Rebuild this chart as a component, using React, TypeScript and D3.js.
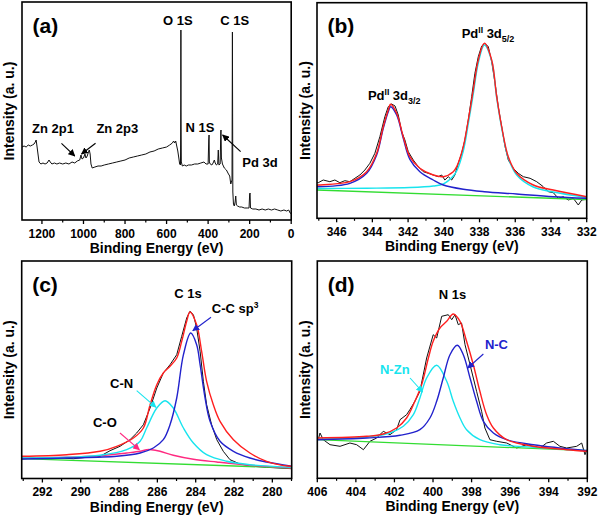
import React from "react";
import * as d3 from "d3";

type P = [number, number];

// ---------------- (a) survey spectrum ----------------
const surveyTicks = [1200, 1000, 800, 600, 400, 200, 0];
const surveySpectrum: P[] = [
  [1296, 73], [1286, 74], [1276, 73], [1266, 75], [1256, 74], [1246, 75], [1238, 76], [1232, 78],
  [1228, 80], [1224, 74], [1219, 66], [1214, 58], [1205, 56], [1195, 57], [1185, 56], [1175, 57],
  [1166, 60], [1160, 58], [1152, 56], [1140, 57], [1128, 56], [1115, 57], [1100, 56], [1085, 57],
  [1070, 56], [1055, 58], [1042, 57], [1030, 59], [1018, 60], [1012, 65], [1007, 61], [1000, 62],
  [993, 66], [988, 62], [982, 64], [976, 68], [972, 70], [968, 66], [964, 56], [958, 52], [945, 53],
  [930, 54], [915, 54], [900, 55], [880, 56], [860, 57], [840, 58], [820, 59], [800, 60], [780, 62],
  [760, 63], [740, 64], [720, 65], [700, 66], [680, 68], [660, 69], [640, 71], [620, 72], [600, 73],
  [585, 75], [572, 77], [566, 79], [561, 77], [556, 79], [551, 74], [546, 69], [541, 62], [537, 56],
  [533, 55], [531.5, 120], [531, 190], [530.5, 110], [529, 58], [524, 54], [515, 55], [505, 54],
  [495, 55], [480, 55], [465, 56], [450, 56], [435, 57], [420, 58], [410, 56], [400, 56], [397, 80],
  [395.5, 85], [394, 58], [390, 56], [382, 55], [376, 57], [370, 60], [366, 57], [360, 55], [354, 56],
  [351, 70], [348, 55], [342, 56], [339, 88], [338, 90], [336, 62], [331, 56], [322, 52], [312, 50],
  [302, 46], [296, 44], [291, 36], [288, 38], [285, 40], [283, 188], [281, 28], [278, 16], [274, 14],
  [270, 18], [267, 24], [264, 15], [258, 14], [248, 13], [238, 13], [225, 12], [212, 12], [203, 12],
  [200, 26], [198, 27], [196, 12], [185, 11], [170, 11], [155, 10], [140, 11], [125, 10], [110, 11],
  [95, 10], [80, 11], [65, 10], [50, 9], [35, 10], [22, 9], [12, 10], [5, 7], [0, 6],
];

// ---------------- (b) Pd 3d ----------------
const pdTicks = [346, 344, 342, 340, 338, 336, 334, 332];
const pdRaw: P[] = [
  [347.09, 35.5], [347.03, 35.3], [346.75, 38], [346.38, 36.3], [346.1, 38], [345.82, 35.3],
  [345.54, 37.3], [345.26, 36.3], [344.98, 39.7], [344.7, 43], [344.42, 48], [344.14, 54.7],
  [343.86, 64.7], [343.58, 81.3], [343.3, 101.3], [343.11, 111.3], [342.92, 114], [342.73, 112],
  [342.55, 103], [342.36, 86.3], [342.18, 78], [341.99, 66.3], [341.71, 58], [341.43, 51.3],
  [341.15, 46.3], [340.87, 44.7], [340.59, 43], [340.31, 41.3], [340.12, 43], [339.94, 38],
  [339.75, 41.3], [339.56, 38], [339.38, 43], [339.19, 54.7], [339.0, 64.7], [338.82, 78],
  [338.63, 98], [338.44, 121.3], [338.26, 144.7], [338.07, 161.3], [337.88, 172], [337.7, 174.7],
  [337.51, 171.3], [337.32, 156.3], [337.13, 134.7], [336.95, 111.3], [336.76, 91.3], [336.57, 71.3],
  [336.39, 58], [336.11, 49.7], [335.83, 44.7], [335.55, 41.3], [335.17, 39.7], [334.8, 36.3],
  [334.43, 31.3], [334.15, 26.3], [333.87, 25.3], [333.59, 19.7], [333.31, 21.3], [333.03, 18],
  [332.75, 19.7], [332.47, 13], [332.28, 18], [332.0, 18.7],
];
const pdEnvelope: P[] = [
  [347.1, 32.8], [347.03, 33], [345.26, 36.3], [344.32, 46.3], [343.76, 64.7], [343.39, 91.3],
  [343.11, 108], [342.98, 113.7], [342.64, 104.7], [342.27, 81.3], [341.9, 61.3], [341.34, 49.7],
  [340.59, 43], [340.03, 41.3], [339.47, 46.3], [339.28, 51.3], [338.91, 71.3], [338.63, 98],
  [338.35, 128], [338.07, 158], [337.73, 174.7], [337.32, 158], [337.04, 121.3], [336.76, 91.3],
  [336.39, 61.3], [335.92, 44.7], [334.99, 33], [333.87, 28], [332.0, 21.3],
];
const pd32: P[] = [
  [347.1, 31.3], [345.26, 34.7], [344.32, 44.7], [343.76, 63], [343.39, 89.7], [343.11, 106.3],
  [342.98, 111.3], [342.64, 103], [342.27, 79.7], [341.9, 58.7], [341.34, 46.3], [340.59, 38],
  [340.03, 33], [338.91, 28.7], [337.73, 26.3], [335.92, 24], [333.87, 21.3], [332.0, 19.7],
];
const pd52: P[] = [
  [347.1, 29.5], [344.32, 29.8], [341.9, 30.5], [340.59, 32], [340.03, 34], [339.47, 42],
  [339.28, 47], [338.91, 67], [338.63, 94], [338.35, 124], [338.07, 155], [337.73, 173],
  [337.32, 157], [337.04, 120], [336.76, 90], [336.39, 60], [335.92, 43], [334.99, 31],
  [333.87, 26], [332.0, 20.5],
];
const pdBackground: P[] = [[347.1, 28], [332, 18.5]];

// ---------------- (c) C 1s ----------------
const cTicks = [292, 290, 288, 286, 284, 282, 280];
const cRaw: P[] = [
  [293.08, 19.5], [292.47, 20.5], [291.77, 19.5], [291.08, 20.5], [290.38, 19.8], [289.69, 21.2],
  [289.17, 21.5], [288.99, 22.2], [288.47, 27.8], [287.95, 32.2], [287.43, 38.8], [287.08, 45.5],
  [286.73, 53.8], [286.38, 70.5], [286.03, 90.5], [285.69, 105.5], [285.34, 113.8], [284.99, 123.8],
  [284.73, 142.2], [284.47, 160.5], [284.3, 167.2], [284.12, 163.8], [283.95, 150.5], [283.77, 127.2],
  [283.6, 97.2], [283.43, 73.8], [283.17, 53.8], [282.9, 38.8], [282.56, 27.2], [282.21, 18.8],
  [281.69, 14.5], [280.99, 12.2], [280.3, 11.2], [278.99, 9.8],
];
const cEnvelope: P[] = [
  [293.08, 22.2], [290.73, 23.8], [288.99, 27.2], [288.12, 32.2], [287.25, 40.5], [286.73, 50.5],
  [286.38, 73.8], [286.03, 93.8], [285.69, 105.5], [285.34, 112.2], [284.99, 120.5], [284.73, 137.2],
  [284.47, 157.2], [284.3, 166.5], [283.95, 153.8], [283.69, 127.2], [283.43, 97.2], [283.08, 73.8],
  [282.73, 57.2], [282.03, 38.8], [281.17, 25.5], [280.3, 17.2], [279.08, 12.2], [278.99, 12.2],
];
const cCC: P[] = [
  [293.08, 19.5], [290.73, 20.5], [288.12, 22.2], [286.9, 25.5], [286.21, 30.5], [285.69, 38.8],
  [285.34, 53.8], [284.99, 80.5], [284.64, 123.8], [284.26, 145.5], [283.95, 133.8], [283.77, 113.8],
  [283.51, 80.5], [283.25, 57.2], [282.73, 37.2], [282.03, 27.2], [281.17, 20.5], [280.3, 16.5],
  [278.99, 12.2],
];
const cCN: P[] = [
  [293.08, 20.5], [290.73, 21.2], [288.99, 23.2], [287.6, 28.8], [286.9, 37.2], [286.56, 50.5],
  [286.03, 70.5], [285.6, 77.8], [285.17, 70.5], [284.64, 50.5], [284.12, 35.5], [283.43, 23.8],
  [282.38, 17.2], [281.17, 13.8], [278.99, 11.2],
];
const cCO: P[] = [
  [293.08, 20.5], [290.73, 21.2], [288.99, 22.8], [287.6, 25.5], [286.9, 27.2], [286.56, 28.8],
  [286.3, 28.8], [285.86, 27.2], [285.17, 23.2], [284.12, 19.2], [282.9, 16.5], [281.17, 13.2],
  [278.99, 10.5],
];
const cBackground: P[] = [[293.08, 19.8], [278.99, 10.5]];

// ---------------- (d) N 1s ----------------
const nTicks = [406, 404, 402, 400, 398, 396, 394, 392];
const nRaw: P[] = [
  [405.95, 38.8], [405.86, 45.5], [405.69, 38.8], [405.34, 33.8], [404.82, 32.2], [404.31, 35.5],
  [403.96, 33.8], [403.61, 28.8], [403.27, 37.2], [402.92, 40.5], [402.58, 47.2], [402.23, 43.8],
  [401.89, 48.8], [401.71, 58.8], [401.37, 63.8], [401.2, 68.8], [400.94, 77.2], [400.68, 87.2],
  [400.33, 120.5], [399.99, 143.8], [399.81, 140.5], [399.55, 162.2], [399.21, 163.8], [399.03, 158.8],
  [398.86, 163.8], [398.69, 153.8], [398.52, 155.5], [398.34, 133.8], [398.08, 113.8], [397.74, 87.2],
  [397.48, 67.2], [397.31, 50.5], [397.05, 38.8], [396.7, 37.2], [396.18, 35.5], [395.66, 30.5],
  [395.15, 33.8], [394.45, 30.5], [394.11, 35.5], [393.76, 37.2], [393.42, 32.2], [393.07, 30.5],
  [392.55, 32.2], [392.29, 35.5], [392.12, 23.8], [392.03, 28.8],
];
const nEnvelope: P[] = [
  [406, 40.5], [403.44, 42.2], [402.58, 44.5], [401.89, 50.5], [401.37, 60.5], [400.94, 77.2],
  [400.59, 93.8], [400.24, 120.5], [399.99, 137.2], [399.64, 150.5], [399.29, 157.2], [398.95, 164.5],
  [398.6, 157.2], [398.26, 137.2], [397.91, 113.8], [397.57, 87.2], [397.22, 63.8], [396.87, 50.5],
  [396.18, 38.8], [394.8, 32.2], [393.07, 28.8], [392.0, 27.2],
];
const nNZn: P[] = [
  [406, 39.5], [403.44, 41.5], [402.23, 45.5], [401.54, 52.2], [401.02, 63.8], [400.68, 80.5],
  [400.33, 100.5], [399.81, 113.2], [399.29, 97.2], [398.95, 77.2], [398.6, 60.5], [398.26, 48.8],
  [397.57, 38.8], [396.53, 33.8], [394.8, 31.2], [392.0, 27.8],
];
const nNC: P[] = [
  [406, 38.8], [403.44, 40.5], [401.71, 43.2], [400.68, 48.8], [400.16, 60.5], [399.81, 77.2],
  [399.47, 100.5], [399.12, 123.8], [398.74, 133.2], [398.43, 123.8], [398.08, 100.5], [397.74, 77.2],
  [397.39, 57.2], [396.87, 45.5], [396.18, 38.8], [394.8, 33.8], [392.0, 27.8],
];
const nBackground: P[] = [[406, 38.8], [392, 27.8]];

// ---------------- styling ----------------
const FONT = "'Liberation Sans', Arial, Helvetica, sans-serif";
const RED = "#ff1f1f";
const BLUE = "#2222cc";
const CYAN = "#18e4ee";
const GREEN = "#33dd33";
const PINK = "#ff2a80";

interface Curve { data: P[]; color: string; width: number; smooth?: boolean }
interface Arrow { from: P; to: P; color: string }
interface Note { at: P; anchor: "start" | "middle"; color: string; parts: { t: string; kind?: "sup" | "sub" }[] }

interface PanelSpec {
  id: string;
  tag: string;
  box: { l: number; r: number; t: number; b: number };
  xDomain: [number, number];
  yDomain: [number, number];
  ticks: number[];
  minorStep: number;
  curves: Curve[];
  notes: Note[];
  arrows: Arrow[];
  yTitleX: number;
}

function Panel({ s }: { s: PanelSpec }) {
  const { l, r, t, b } = s.box;
  const x = d3.scaleLinear().domain(s.xDomain).range([l, r]);
  const y = d3.scaleLinear().domain(s.yDomain).range([b, t]);
  const lo = Math.min(...s.xDomain);
  const hi = Math.max(...s.xDomain);
  const minor = d3.range(Math.ceil(lo / s.minorStep) * s.minorStep, hi + 1e-9, s.minorStep)
    .filter((v) => !s.ticks.some((m) => Math.abs(m - v) < 1e-6));
  const clipId = `clip-${s.id}`;
  const arrowColors = Array.from(new Set(s.arrows.map((a) => a.color)));
  const mId = (c: string) => `arr-${s.id}-${c.replace("#", "")}`;
  return (
    <g>
      <defs>
        <clipPath id={clipId}>
          <rect x={l} y={t} width={r - l} height={b - t} />
        </clipPath>
        {arrowColors.map((c) => (
          <marker key={c} id={mId(c)} viewBox="0 0 10 10" refX="9" refY="5" markerWidth="7" markerHeight="7"
            markerUnits="userSpaceOnUse" orient="auto">
            <path d="M0,0 L10,5 L0,10 z" fill={c} />
          </marker>
        ))}
      </defs>
      <g clipPath={`url(#${clipId})`}>
        {s.curves.map((c, i) => {
          const line = d3.line<P>()
            .x((d) => x(d[0]))
            .y((d) => y(d[1]))
            .curve(c.smooth ? d3.curveCatmullRom.alpha(0.5) : d3.curveLinear);
          return <path key={i} d={line(c.data) || ""} fill="none" stroke={c.color} strokeWidth={c.width}
            strokeLinejoin="round" />;
        })}
      </g>
      {s.arrows.map((a, i) => (
        <line key={i} x1={x(a.from[0])} y1={y(a.from[1])} x2={x(a.to[0])} y2={y(a.to[1])}
          stroke={a.color} strokeWidth={1.1} markerEnd={`url(#${mId(a.color)})`} />
      ))}
      {s.notes.map((n, i) => (
        <text key={i} x={x(n.at[0])} y={y(n.at[1])} textAnchor={n.anchor} fill={n.color}
          fontFamily={FONT} fontWeight="bold" fontSize={13}>
          {n.parts.map((p, j) => {
            if (p.kind === "sup") return <tspan key={j} fontSize={8.5} dy={-5}>{p.t}</tspan>;
            if (p.kind === "sub") return <tspan key={j} fontSize={9} dy={4}>{p.t}</tspan>;
            const prev = n.parts[j - 1];
            const dy = prev && prev.kind === "sup" ? 5 : prev && prev.kind === "sub" ? -4 : 0;
            return <tspan key={j} dy={dy}>{p.t}</tspan>;
          })}
        </text>
      ))}
      <rect x={l} y={t} width={r - l} height={b - t} fill="none" stroke="#000" strokeWidth={1.6} />
      {s.ticks.map((v) => (
        <g key={`M${v}`}>
          <line x1={x(v)} x2={x(v)} y1={b} y2={b + 4} stroke="#000" strokeWidth={1.3} />
          <text x={x(v)} y={b + 17.5} textAnchor="middle" fontFamily={FONT} fontWeight="bold" fontSize={12}>{v}</text>
        </g>
      ))}
      {minor.map((v) => (
        <line key={`m${v}`} x1={x(v)} x2={x(v)} y1={b} y2={b + 2.5} stroke="#000" strokeWidth={1.2} />
      ))}
      <text x={(l + r) / 2} y={b + 33} textAnchor="middle" fontFamily={FONT} fontWeight="bold" fontSize={14}>
        Binding Energy (eV)
      </text>
      <text transform={`translate(${s.yTitleX},${(t + b) / 2}) rotate(-90)`} textAnchor="middle"
        fontFamily={FONT} fontWeight="bold" fontSize={14}>
        Intensity (a. u.)
      </text>
      <text x={l + 10.5} y={t + 30.5} fontFamily={FONT} fontWeight="bold" fontSize={21}>{s.tag}</text>
    </g>
  );
}

const panels: PanelSpec[] = [
  {
    id: "a", tag: "(a)",
    box: { l: 22, r: 291.2, t: 2, b: 220 },
    xDomain: [1296, 0], yDomain: [0, 218],
    ticks: surveyTicks, minorStep: 100,
    curves: [{ data: surveySpectrum, color: "#111", width: 1 }],
    notes: [
      { at: [545.5, 195], anchor: "middle", color: "#000", parts: [{ t: "O 1S" }] },
      { at: [272, 195], anchor: "middle", color: "#000", parts: [{ t: "C 1S" }] },
      { at: [1146.5, 87], anchor: "middle", color: "#000", parts: [{ t: "Zn 2p1" }] },
      { at: [837, 87], anchor: "middle", color: "#000", parts: [{ t: "Zn 2p3" }] },
      { at: [439.5, 88.5], anchor: "middle", color: "#000", parts: [{ t: "N 1S" }] },
      { at: [150.4, 53.5], anchor: "middle", color: "#000", parts: [{ t: "Pd 3d" }] },
    ],
    arrows: [
      { from: [1106, 76.7], to: [1042, 64], color: "#000" },
      { from: [942, 76.7], to: [1009.6, 66], color: "#000" },
      { from: [243.4, 68.3], to: [330, 85], color: "#000" },
    ],
    yTitleX: 13.5,
  },
  {
    id: "b", tag: "(b)",
    box: { l: 317, r: 586.7, t: 2.7, b: 218.3 },
    xDomain: [347.1, 332], yDomain: [-0.3, 215.3],
    ticks: pdTicks, minorStep: 1,
    curves: [
      { data: pdRaw, color: "#111", width: 1 },
      { data: pdBackground, color: GREEN, width: 1.3 },
      { data: pd52, color: CYAN, width: 1.4, smooth: true },
      { data: pd32, color: BLUE, width: 1.4, smooth: true },
      { data: pdEnvelope, color: RED, width: 1.4, smooth: true },
    ],
    notes: [
      { at: [344.25, 118.5], anchor: "start", color: "#000", parts: [{ t: "Pd" }, { t: "II", kind: "sup" }, { t: " 3d" }, { t: "3/2", kind: "sub" }] },
      { at: [339.0, 179.7], anchor: "start", color: "#000", parts: [{ t: "Pd" }, { t: "II", kind: "sup" }, { t: " 3d" }, { t: "5/2", kind: "sub" }] },
    ],
    arrows: [],
    yTitleX: 310,
  },
  {
    id: "c", tag: "(c)",
    box: { l: 21.7, r: 291.7, t: 261, b: 478.5 },
    xDomain: [293.08, 278.99], yDomain: [0, 217.5],
    ticks: cTicks, minorStep: 1,
    curves: [
      { data: cRaw, color: "#111", width: 1 },
      { data: cBackground, color: GREEN, width: 1.3 },
      { data: cCO, color: PINK, width: 1.4, smooth: true },
      { data: cCN, color: CYAN, width: 1.4, smooth: true },
      { data: cCC, color: BLUE, width: 1.4, smooth: true },
      { data: cEnvelope, color: RED, width: 1.4, smooth: true },
    ],
    notes: [
      { at: [284.4, 180.5], anchor: "middle", color: "#000", parts: [{ t: "C 1s" }] },
      { at: [283.16, 165.5], anchor: "start", color: "#000", parts: [{ t: "C-C sp" }, { t: "3", kind: "sup" }] },
      { at: [288.47, 90.5], anchor: "start", color: "#000", parts: [{ t: "C-N" }] },
      { at: [289.36, 51.5], anchor: "start", color: "#000", parts: [{ t: "C-O" }] },
    ],
    arrows: [
      { from: [283.2, 161.2], to: [284.15, 147.8], color: BLUE },
      { from: [287.08, 87.8], to: [286.07, 71.2], color: CYAN },
      { from: [287.95, 45.5], to: [286.94, 28.8], color: PINK },
    ],
    yTitleX: 13.5,
  },
  {
    id: "d", tag: "(d)",
    box: { l: 317.3, r: 587.3, t: 261, b: 478.3 },
    xDomain: [406, 392], yDomain: [0.2, 217.5],
    ticks: nTicks, minorStep: 1,
    curves: [
      { data: nRaw, color: "#111", width: 1 },
      { data: nBackground, color: GREEN, width: 1.3 },
      { data: nNZn, color: CYAN, width: 1.4, smooth: true },
      { data: nNC, color: BLUE, width: 1.4, smooth: true },
      { data: nEnvelope, color: RED, width: 1.4, smooth: true },
    ],
    notes: [
      { at: [398.99, 179.8], anchor: "middle", color: "#000", parts: [{ t: "N 1s" }] },
      { at: [397.31, 129.5], anchor: "start", color: BLUE, parts: [{ t: "N-C" }] },
      { at: [402.75, 104.5], anchor: "start", color: CYAN, parts: [{ t: "N-Zn" }] },
    ],
    arrows: [
      { from: [397.39, 124.5], to: [398.2, 110.5], color: BLUE },
      { from: [401.19, 100.5], to: [400.54, 86.5], color: CYAN },
    ],
    yTitleX: 310,
  },
];

export default function App() {
  return (
    <svg width={600} height={518} viewBox="0 0 600 518"
      style={{ position: "absolute", left: 0, top: 0, display: "block", background: "#fff" }}>
      <rect x={0} y={0} width={600} height={518} fill="#fff" />
      {panels.map((p) => <Panel key={p.id} s={p} />)}
    </svg>
  );
}
